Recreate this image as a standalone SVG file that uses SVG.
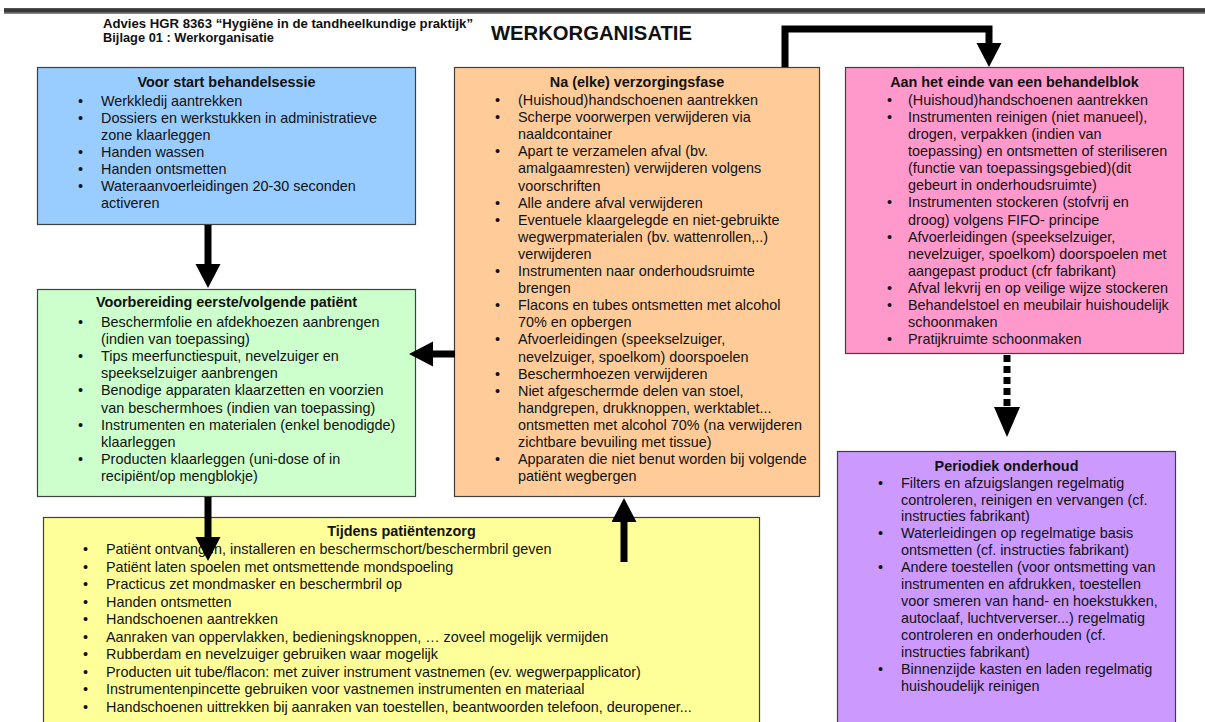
<svg xmlns="http://www.w3.org/2000/svg" width="1205" height="722" viewBox="0 0 1205 722">
<defs>
<style>
.box{stroke:#404040;stroke-width:1.2}
.t{font-family:"Liberation Sans",Arial,sans-serif;font-size:14.4px;fill:#111}
.h{font-family:"Liberation Sans",Arial,sans-serif;font-size:14.4px;font-weight:bold;fill:#111;text-anchor:middle}
.hdr{font-family:"Liberation Sans",Arial,sans-serif;font-weight:bold;fill:#111}
.c{fill:none;stroke:#000;stroke-width:7}
</style>
<linearGradient id="bar" x1="0" y1="0" x2="0" y2="1">
<stop offset="0" stop-color="#555"/>
<stop offset="0.5" stop-color="#2a2a2a"/>
<stop offset="1" stop-color="#9a9a9a"/>
</linearGradient>
<marker id="ah" markerUnits="userSpaceOnUse" markerWidth="26" markerHeight="26" refX="0" refY="12.5" orient="auto">
<path d="M0,0 L24,12.5 L0,25 z" fill="#000"/>
</marker>
<marker id="ahd" markerUnits="userSpaceOnUse" markerWidth="32" markerHeight="27" refX="0" refY="13" orient="auto">
<path d="M0,0 L30,13 L0,26 z" fill="#000"/>
</marker>
</defs>
<rect width="1205" height="722" fill="#fff"/>
<rect x="4" y="8" width="1201" height="6" fill="url(#bar)"/>
<g id="header">
<text class="hdr" x="103" y="28" font-size="12" textLength="370" lengthAdjust="spacingAndGlyphs">Advies HGR 8363 “Hygiëne in de tandheelkundige praktijk”</text>
<text class="hdr" x="103" y="42" font-size="12" textLength="171" lengthAdjust="spacingAndGlyphs">Bijlage 01 : Werkorganisatie</text>
<text class="hdr" x="491" y="40" font-size="20" textLength="201" lengthAdjust="spacingAndGlyphs">WERKORGANISATIE</text>
</g>
<g id="voor-start">
<rect class="box" x="37.5" y="67.5" width="378" height="157" fill="#99CCFF"/>
<text class="h" x="226.5" y="87">Voor start behandelsessie</text>
<g class="t">
<text x="78" y="106">•</text><text x="101" y="106">Werkkledij aantrekken</text>
<text x="78" y="123">•</text><text x="101" y="123">Dossiers en werkstukken in administratieve</text>
<text x="101" y="140">zone klaarleggen</text>
<text x="78" y="157">•</text><text x="101" y="157">Handen wassen</text>
<text x="78" y="174">•</text><text x="101" y="174">Handen ontsmetten</text>
<text x="78" y="191">•</text><text x="101" y="191">Wateraanvoerleidingen 20-30 seconden</text>
<text x="101" y="208">activeren</text>
</g>
</g>
<g id="voorbereiding">
<rect class="box" x="37.5" y="289.5" width="378" height="207" fill="#CCFFCC"/>
<text class="h" x="226.5" y="307">Voorbereiding eerste/volgende patiënt</text>
<g class="t">
<text x="78" y="327">•</text><text x="101" y="327">Beschermfolie en afdekhoezen aanbrengen</text>
<text x="101" y="344.1">(indien van toepassing)</text>
<text x="78" y="361.2">•</text><text x="101" y="361.2">Tips meerfunctiespuit, nevelzuiger en</text>
<text x="101" y="378.3">speekselzuiger aanbrengen</text>
<text x="78" y="395.4">•</text><text x="101" y="395.4">Benodige apparaten klaarzetten en voorzien</text>
<text x="101" y="412.5">van beschermhoes (indien van toepassing)</text>
<text x="78" y="429.6">•</text><text x="101" y="429.6">Instrumenten en materialen (enkel benodigde)</text>
<text x="101" y="446.7">klaarleggen</text>
<text x="78" y="463.8">•</text><text x="101" y="463.8">Producten klaarleggen (uni-dose of in</text>
<text x="101" y="480.9">recipiënt/op mengblokje)</text>
</g>
</g>
<g id="na-verzorgingsfase">
<rect class="box" x="454.5" y="67.5" width="365" height="429" fill="#FFCC99"/>
<text class="h" x="637" y="87">Na (elke) verzorgingsfase</text>
<g class="t">
<text x="495" y="105">•</text><text x="518" y="105">(Huishoud)handschoenen aantrekken</text>
<text x="495" y="122.1">•</text><text x="518" y="122.1">Scherpe voorwerpen verwijderen via</text>
<text x="518" y="139.2">naaldcontainer</text>
<text x="495" y="156.3">•</text><text x="518" y="156.3">Apart te verzamelen afval (bv.</text>
<text x="518" y="173.4">amalgaamresten) verwijderen volgens</text>
<text x="518" y="190.5">voorschriften</text>
<text x="495" y="207.6">•</text><text x="518" y="207.6">Alle andere afval verwijderen</text>
<text x="495" y="224.7">•</text><text x="518" y="224.7">Eventuele klaargelegde en niet-gebruikte</text>
<text x="518" y="241.8">wegwerpmaterialen (bv. wattenrollen,..)</text>
<text x="518" y="258.9">verwijderen</text>
<text x="495" y="276">•</text><text x="518" y="276">Instrumenten naar onderhoudsruimte</text>
<text x="518" y="293.1">brengen</text>
<text x="495" y="310.2">•</text><text x="518" y="310.2">Flacons en tubes ontsmetten met alcohol</text>
<text x="518" y="327.3">70% en opbergen</text>
<text x="495" y="344.4">•</text><text x="518" y="344.4">Afvoerleidingen (speekselzuiger,</text>
<text x="518" y="361.5">nevelzuiger, spoelkom) doorspoelen</text>
<text x="495" y="378.6">•</text><text x="518" y="378.6">Beschermhoezen verwijderen</text>
<text x="495" y="395.7">•</text><text x="518" y="395.7">Niet afgeschermde delen van stoel,</text>
<text x="518" y="412.8">handgrepen, drukknoppen, werktablet...</text>
<text x="518" y="429.9">ontsmetten met alcohol 70% (na verwijderen</text>
<text x="518" y="447">zichtbare bevuiling met tissue)</text>
<text x="495" y="464.1">•</text><text x="518" y="464.1">Apparaten die niet benut worden bij volgende</text>
<text x="518" y="481.2">patiënt wegbergen</text>
</g>
</g>
<g id="einde-behandelblok">
<rect class="box" x="845.5" y="67.5" width="338" height="286" fill="#FF99CC"/>
<text class="h" x="1014.5" y="87">Aan het einde van een behandelblok</text>
<g class="t">
<text x="887" y="105">•</text><text x="908" y="105">(Huishoud)handschoenen aantrekken</text>
<text x="887" y="122.1">•</text><text x="908" y="122.1">Instrumenten reinigen (niet manueel),</text>
<text x="908" y="139.1">drogen, verpakken (indien van</text>
<text x="908" y="156.2">toepassing) en ontsmetten of steriliseren</text>
<text x="908" y="173.3">(functie van toepassingsgebied)(dit</text>
<text x="908" y="190.4">gebeurt in onderhoudsruimte)</text>
<text x="887" y="207.4">•</text><text x="908" y="207.4">Instrumenten stockeren (stofvrij en</text>
<text x="908" y="224.5">droog) volgens FIFO- principe</text>
<text x="887" y="241.6">•</text><text x="908" y="241.6">Afvoerleidingen (speekselzuiger,</text>
<text x="908" y="258.6">nevelzuiger, spoelkom) doorspoelen met</text>
<text x="908" y="275.7">aangepast product (cfr fabrikant)</text>
<text x="887" y="292.8">•</text><text x="908" y="292.8">Afval lekvrij en op veilige wijze stockeren</text>
<text x="887" y="309.8">•</text><text x="908" y="309.8">Behandelstoel en meubilair huishoudelijk</text>
<text x="908" y="326.9">schoonmaken</text>
<text x="887" y="344">•</text><text x="908" y="344">Pratijkruimte schoonmaken</text>
</g>
</g>
<g id="periodiek-onderhoud">
<rect class="box" x="837.5" y="451.5" width="338" height="280" fill="#CC99FF"/>
<text class="h" x="1006.5" y="471">Periodiek onderhoud</text>
<g class="t">
<text x="878" y="487.5">•</text><text x="901" y="487.5">Filters en afzuigslangen regelmatig</text>
<text x="901" y="504.5">controleren, reinigen en vervangen (cf.</text>
<text x="901" y="521.4">instructies fabrikant)</text>
<text x="878" y="538.4">•</text><text x="901" y="538.4">Waterleidingen op regelmatige basis</text>
<text x="901" y="555.3">ontsmetten (cf. instructies fabrikant)</text>
<text x="878" y="572.3">•</text><text x="901" y="572.3">Andere toestellen (voor ontsmetting van</text>
<text x="901" y="589.2">instrumenten en afdrukken, toestellen</text>
<text x="901" y="606.2">voor smeren van hand- en hoekstukken,</text>
<text x="901" y="623.1">autoclaaf, luchtververser...) regelmatig</text>
<text x="901" y="640.1">controleren en onderhouden (cf.</text>
<text x="901" y="657">instructies fabrikant)</text>
<text x="878" y="674">•</text><text x="901" y="674">Binnenzijde kasten en laden regelmatig</text>
<text x="901" y="690.9">huishoudelijk reinigen</text>
</g>
</g>
<g id="tijdens-patientenzorg">
<rect class="box" x="43.5" y="517.5" width="716" height="214" fill="#FFFF99"/>
<text class="h" x="401.5" y="535.5">Tijdens patiëntenzorg</text>
<g class="t">
<text x="83" y="554">•</text><text x="106" y="554">Patiënt ontvangen, installeren en beschermschort/beschermbril geven</text>
<text x="83" y="571.5">•</text><text x="106" y="571.5">Patiënt laten spoelen met ontsmettende mondspoeling</text>
<text x="83" y="589">•</text><text x="106" y="589">Practicus zet mondmasker en beschermbril op</text>
<text x="83" y="606.6">•</text><text x="106" y="606.6">Handen ontsmetten</text>
<text x="83" y="624.1">•</text><text x="106" y="624.1">Handschoenen aantrekken</text>
<text x="83" y="641.6">•</text><text x="106" y="641.6">Aanraken van oppervlakken, bedieningsknoppen, … zoveel mogelijk vermijden</text>
<text x="83" y="659.1">•</text><text x="106" y="659.1">Rubberdam en nevelzuiger gebruiken waar mogelijk</text>
<text x="83" y="676.6">•</text><text x="106" y="676.6">Producten uit tube/flacon: met zuiver instrument vastnemen (ev. wegwerpapplicator)</text>
<text x="83" y="694.2">•</text><text x="106" y="694.2">Instrumentenpincette gebruiken voor vastnemen instrumenten en materiaal</text>
<text x="83" y="711.7">•</text><text x="106" y="711.7">Handschoenen uittrekken bij aanraken van toestellen, beantwoorden telefoon, deuropener...</text>
</g>
</g>
<g id="connectors">
<line class="c" x1="208" y1="225" x2="208" y2="264" marker-end="url(#ah)"/>
<line class="c" x1="208" y1="497" x2="208" y2="537" marker-end="url(#ah)"/>
<line class="c" x1="455" y1="354" x2="433" y2="354" marker-end="url(#ah)"/>
<line class="c" x1="624" y1="562" x2="624" y2="522" marker-end="url(#ah)"/>
<polyline class="c" stroke-width="6" points="785,67 785,29 989,29 989,43" marker-end="url(#ah)"/>
<line class="c" stroke-width="6" stroke-dasharray="7 4" x1="1007" y1="355" x2="1007" y2="407" marker-end="url(#ahd)"/>
</g>
</svg>
